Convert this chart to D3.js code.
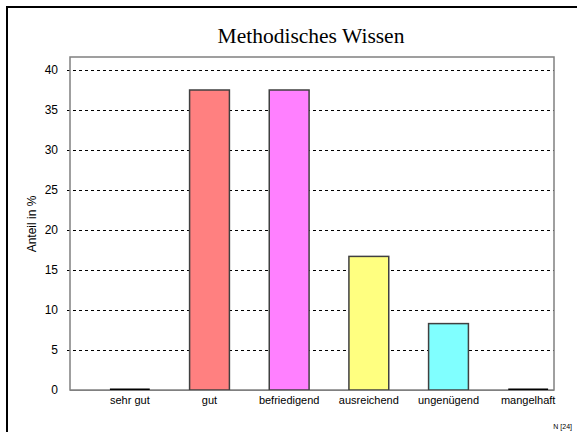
<!DOCTYPE html>
<html>
<head>
<meta charset="utf-8">
<script src="https://cdn.jsdelivr.net/npm/d3@7"></script>
<style>
  html, body { margin: 0; padding: 0; background: #fff; }
  svg { display: block; }
</style>
</head>
<body>
<svg id="chart" width="577" height="432"></svg>
<script>
// Grades and their share in percent (N = 24)
const categories = ["sehr gut", "gut", "befriedigend", "ausreichend", "ungenügend", "mangelhaft"];
const shares = [0, 37.5, 37.5, 16.7, 8.3, 0];
const barColors = ["#000000", "#FF8080", "#FF80FF", "#FFFF80", "#80FFFF", "#000000"];
const yTicks = [0, 5, 10, 15, 20, 25, 30, 35, 40];
const chartTitle = "Methodisches Wissen";
const yTitle = "Anteil in %";
const sampleNote = "N [24]";

const svg = d3.select("#chart");

// outer frame
svg.append("rect")
  .attr("x", 7).attr("y", 7)
  .attr("width", 600).attr("height", 440)
  .attr("fill", "#fff").attr("stroke", "#000").attr("stroke-width", 2);

const plot = { left: 70, right: 554, top: 57, bottom: 390 };

const y = d3.scaleLinear().domain([0, 40]).range([plot.bottom, 70]);
const x = d3.scaleBand().domain(categories).range([90, 568]).paddingInner(0.5).paddingOuter(0.25);

// title
svg.append("text")
  .attr("x", 311).attr("y", 43)
  .attr("text-anchor", "middle")
  .attr("font-family", "'Liberation Serif', 'Times New Roman', serif")
  .attr("font-size", 21.5)
  .attr("fill", "#000")
  .text(chartTitle);

// dashed gridlines with short ticks left of the axis
svg.append("g").selectAll("line")
  .data(yTicks.filter(d => d > 0))
  .join("line")
  .attr("x1", plot.left - 3).attr("x2", plot.right)
  .attr("y1", d => Math.round(y(d)) + 0.5).attr("y2", d => Math.round(y(d)) + 0.5)
  .attr("stroke", "#000").attr("stroke-width", 1)
  .attr("stroke-dasharray", "3,3");

// y tick labels
svg.append("g").selectAll("text")
  .data(yTicks)
  .join("text")
  .attr("x", 58).attr("y", d => y(d))
  .attr("dy", "0.35em")
  .attr("text-anchor", "end")
  .attr("font-family", "'Liberation Sans', Arial, sans-serif")
  .attr("font-size", 12)
  .attr("fill", "#000")
  .text(d => d);

// plot frame
svg.append("rect")
  .attr("x", plot.left).attr("y", plot.top)
  .attr("width", plot.right - plot.left).attr("height", plot.bottom - plot.top)
  .attr("fill", "none").attr("stroke", "#808080").attr("stroke-width", 1.5);

// bars
const bars = categories.map((c, i) => ({ c, v: shares[i], color: barColors[i] }));
svg.append("g").selectAll("rect")
  .data(bars.filter(d => d.v > 0))
  .join("rect")
  .attr("x", d => x(d.c))
  .attr("y", d => y(d.v))
  .attr("width", x.bandwidth())
  .attr("height", d => y(0) - y(d.v))
  .attr("fill", d => d.color)
  .attr("stroke", "#404040")
  .attr("stroke-width", 1.5);

// zero-height bars appear as a flat outline on the baseline
svg.append("g").selectAll("line")
  .data(bars.filter(d => d.v === 0))
  .join("line")
  .attr("x1", d => x(d.c)).attr("x2", d => x(d.c) + x.bandwidth())
  .attr("y1", d => y(d.v) - 0.5).attr("y2", d => y(d.v) - 0.5)
  .attr("stroke", "#000").attr("stroke-width", 2);

// x-axis line
svg.append("line")
  .attr("x1", plot.left).attr("x2", plot.right)
  .attr("y1", plot.bottom + 0.5).attr("y2", plot.bottom + 0.5)
  .attr("stroke", "#808080").attr("stroke-width", 1);

// category labels
svg.append("g").selectAll("text")
  .data(categories)
  .join("text")
  .attr("x", d => x(d) + x.bandwidth() / 2)
  .attr("y", 404)
  .attr("text-anchor", "middle")
  .attr("font-family", "'Liberation Sans', Arial, sans-serif")
  .attr("font-size", 11)
  .attr("fill", "#000")
  .text(d => d);

// y-axis title
svg.append("text")
  .attr("transform", "translate(36,224) rotate(-90)")
  .attr("text-anchor", "middle")
  .attr("font-family", "'Liberation Sans', Arial, sans-serif")
  .attr("font-size", 12)
  .attr("fill", "#000")
  .text(yTitle);

// sample size note
svg.append("text")
  .attr("x", 572).attr("y", 429)
  .attr("text-anchor", "end")
  .attr("font-family", "'Liberation Sans', Arial, sans-serif")
  .attr("font-size", 7)
  .attr("fill", "#000")
  .text(sampleNote);
</script>
</body>
</html>
